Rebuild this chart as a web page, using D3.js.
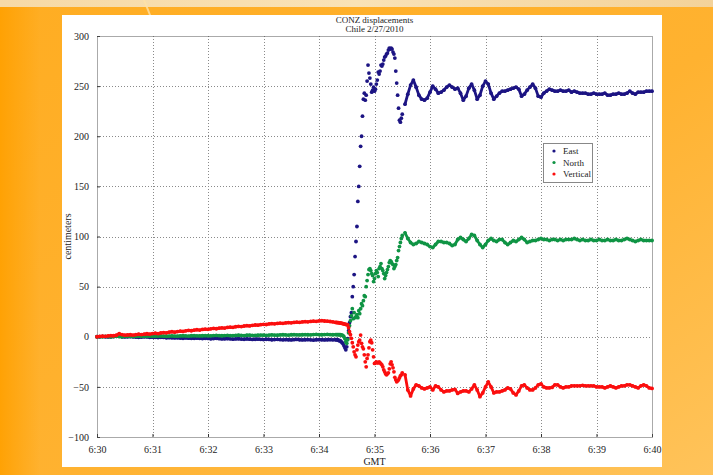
<!DOCTYPE html>
<html>
<head>
<meta charset="utf-8">
<script src="https://cdn.jsdelivr.net/npm/d3@7"></script>
<style>
  html, body { margin: 0; padding: 0; }
  body { width: 713px; height: 475px; overflow: hidden; }
  svg text { font-family: "Liberation Serif", "DejaVu Serif", serif; }
</style>
</head>
<body>
<svg id="chart" width="713" height="475"></svg>
<script>
// ---- data: CONZ GPS displacements (cm), 27 Feb 2010, 6:30-6:40 GMT ----
// Each segment: first sample (s after 6:30), sample spacing (s), values.
const eastPre = [0,0,0.3,0,-0.2,0,0.2,0.5,0.3,0,-0.2,0,0.2,0,-0.3,-0.5,-0.3,0,-0.2,-0.5,
  -0.4,-0.6,-0.8,-0.5,-0.7,-1,-0.8,-1,-1.2,-1,-1.3,-1.5,-1.2,-1.4,-1.6,-1.5,-1.3,-1.6,-1.8,-1.5,
  -1.7,-2,-1.8,-1.6,-1.9,-2.2,-2,-1.8,-2.1,-2.4,-2.2,-2,-2.3,-2.5,-2.2,-2.4,-2.7,-2.5,-2.3,-2.6,
  -2.8,-2.5,-2.7,-3,-2.8,-2.6,-2.9,-3.1,-2.8,-3,-3.2,-2.9,-2.7,-3,-3.2,-3,-2.8,-3.1,-3.3,-3,
  -2.8,-3,-3.2,-3,-2.9,-3.1,-3];
const eastQuake = [-3,-3,-3.5,-4,-4,-5,-6,-7,-9,-11,-13,-10,-2,6,14,20,24,40,50,62,
  80,95,110,135,150,170,190,200,220,237,243,236,241,255,271,263,258,252,244,246,
  249,245,247,252,256,264,262,265,271,270,272,276,279,280,282,283,286,288,287,288,
  287,284,282,278,265,253,241,228,216,214,218,222];
const eastPost = [232,242,251,256,249,241,237,236,238,244,250,247,243,244,246,249,251,249,247,248,
  243,236,240,248,252,246,237,241,250,255,252,243,237,240,243,245,245,246,247,248,
  249,247,240,242,246,249,252,248,240,239,243,245,247,246,245,245,246,245,245,246,
  244,245,244,243,243,243,242,242,243,242,242,242,243,241,241,242,242,243,242,242,
  243,245,243,242,244,244,244,245,245,245];

const northPre = [0,0.2,0,0.3,0.1,0,0.2,0.4,0.2,0,0.3,0.5,0.3,0.2,0.4,0.6,0.3,0.3,0.5,0.7,
  0.5,0.4,0.7,0.8,0.6,0.5,0.7,0.9,0.6,0.6,0.8,1,0.8,0.7,1,1.1,0.9,0.8,1,1.2,
  1,0.9,1.2,1.3,1.1,1,1.2,1.4,1.1,1.1,1.3,1.5,1.3,1.2,1.5,1.6,1.4,1.3,1.5,1.7,
  1.6,1.4,1.7,1.9,1.7,1.6,1.8,2,1.8,1.7,2,2.1,1.9,1.8,2,2.2,2,1.9,2.2,2.3,
  2.1,2,2.2,2.3,2.1,2,2.2];
const northQuake = [2.2,2.1,2.2,2,2,1.8,1.5,1,0,-2,-5,-6.6,-3,4,11,16,21,28,18,24,
  19,20,22,19,26,23,28,33,31,36,41,40,50,56,62,67,68,66,63,61,
  55,58,63,66,64,60,68,70,73,68,66,63,58,61,64,67,70,74,76,75,
  73,72,68,70,72,76,79,86,90,94,98,101];
const northPost = [103.7,98,94,92,93,95,94,93,92,90,89,92,95,95,94,94,93,91,92,97,
  99,97,95,98,102,101,96,92,89,92,96,98,96,95,97,97,94,92,94,96,
  95,97,99,97,94,95,96,96,97,98,97,97,96,97,97,96,97,96,97,97,
  97,98,97,96,97,96,96,97,96,96,97,96,96,97,96,96,97,96,96,97,
  98,97,96,95,96,97,96,96,96,96];

const vertPre = [0,0.3,0.5,0.4,0.8,1.2,1,1.5,3,2.2,1.6,1.8,2,1.7,2.1,2.5,2.2,2.6,3,2.7,
  3.2,3.5,3.1,3.8,4.2,3.9,4.5,5,4.6,5.2,5.6,5.3,5.9,6.3,6,6.6,7,6.7,7.3,7.6,
  7.4,7.9,8.3,8,8.6,8.9,8.7,9.3,9.6,9.4,10,10.3,10.1,10.7,11,10.8,11.4,11.7,11.5,12,
  12.4,12.2,12.8,13.1,12.9,13.3,13.6,13.4,13.8,14.1,13.9,14.3,14.6,14.4,14.8,15.1,14.9,15.3,15.6,15.4,
  15.8,16,15.7,15.5,15.2,14.8,14.3];
const vertQuake = [14.2,14.1,14,13.8,13.7,13.5,13.3,13,12.8,12.5,12.3,12,11.7,9,5,2,-1.6,-6,-10,-15,
  -18,-20,-13,-8.3,-5,-3.3,1.7,-6.6,-10,-12,-18,-25,-30,-21.6,-18,-11,-5,-3.3,-6,-13,
  -20,-26.6,-26,-25,-26,-26,-25,-26,-27,-28,-30,-33,-35,-37,-38,-37,-36,-32,-27,-25,
  -28,-31,-35,-40.5,-43,-45,-44,-43,-41,-39,-38,-36];
const vertPost = [-38,-53,-59,-52,-48,-49,-51,-52,-51,-50,-53,-49,-50,-53,-55,-54,-54,-53,-52.5,-56.5,
  -55,-54,-54,-55,-52,-48,-53,-59.8,-56,-50,-45,-50,-56,-55,-55,-54,-53,-51,-52,-56,
  -58,-54,-49,-48,-51,-53,-53,-51,-48,-47,-50,-51,-51,-50.5,-48,-48,-50,-51,-50,-50,
  -49,-49,-49,-49,-48.5,-49,-49,-49,-49,-50,-50,-50,-51,-50,-49,-50,-51,-50,-49,-49,
  -48,-48,-49,-50,-51,-49,-48,-49,-51,-51.5];

const segmentStarts = [0, 259, 333];   // seconds after 6:30
const segmentSteps  = [3, 1, 3];       // seconds between samples
const segmentTraced = [true, false, true]; // steady segments drawn as a dense trace

const seriesNames  = ["East", "North", "Vertical"];
const seriesColors = ["#1c1483", "#0f9444", "#fb0e0e"];
const seriesSegments = [
  [eastPre, eastQuake, eastPost],
  [northPre, northQuake, northPost],
  [vertPre, vertQuake, vertPost]
];

const xTickLabels = ["6:30","6:31","6:32","6:33","6:34","6:35","6:36","6:37","6:38","6:39","6:40"];
const yTickValues = [-100,-50,0,50,100,150,200,250,300];
const titleLines = ["CONZ displacements", "Chile 2/27/2010"];

// ---- build point lists ----
const series = seriesNames.map((name, k) => {
  const pts = [];
  const traces = [];
  seriesSegments[k].forEach((vals, j) => {
    const seg = vals.map((v, i) => ({ s: segmentStarts[j] + i * segmentSteps[j], v }));
    pts.push(...seg);
    if (segmentTraced[j]) traces.push(seg);
  });
  return { name, color: seriesColors[k], pts, traces };
});

const svg = d3.select("#chart");
const W = 713, H = 475;

// ---- slide background ----
const defs = svg.append("defs");
const bg = defs.append("linearGradient").attr("id", "bgGrad")
  .attr("x1", "0").attr("y1", "0").attr("x2", "1").attr("y2", "1");
bg.append("stop").attr("offset", "0").attr("stop-color", "#ffad22");
bg.append("stop").attr("offset", "0.55").attr("stop-color", "#ffb230");
bg.append("stop").attr("offset", "1").attr("stop-color", "#ffc35a");
const edge = defs.append("linearGradient").attr("id", "edgeGrad")
  .attr("x1", "0").attr("y1", "0").attr("x2", "1").attr("y2", "0");
edge.append("stop").attr("offset", "0").attr("stop-color", "#ffa000").attr("stop-opacity", 0.9);
edge.append("stop").attr("offset", "1").attr("stop-color", "#ffa000").attr("stop-opacity", 0);
const band = defs.append("linearGradient").attr("id", "bandGrad")
  .attr("x1", "0").attr("y1", "0").attr("x2", "1").attr("y2", "0");
band.append("stop").attr("offset", "0").attr("stop-color", "#f6d9a6");
band.append("stop").attr("offset", "0.5").attr("stop-color", "#f9e2b6");
band.append("stop").attr("offset", "1").attr("stop-color", "#f3d29a");

svg.append("rect").attr("width", W).attr("height", H).attr("fill", "url(#bgGrad)");
svg.append("rect").attr("width", 40).attr("height", H).attr("fill", "url(#edgeGrad)");
svg.append("rect").attr("width", W).attr("height", 7).attr("fill", "url(#bandGrad)");
svg.append("line").attr("x1", 144).attr("y1", 0).attr("x2", 160).attr("y2", 40)
  .attr("stroke", "#ffe2a8").attr("stroke-width", 2).attr("opacity", 0.8);

// white figure panel
svg.append("rect").attr("x", 62).attr("y", 15).attr("width", 600).attr("height", 452).attr("fill", "#ffffff");

// ---- scales ----
const x = d3.scaleLinear().domain([0, 600]).range([97, 652]);
const y = d3.scaleLinear().domain([-100, 300]).range([437, 36]);
const xTickValues = xTickLabels.map((_, i) => i * 60);

const plot = svg.append("g");

// grid
const gridStyle = g => g.attr("stroke", "#8a8a8a").attr("stroke-width", 1).attr("stroke-dasharray", "1,2");
plot.append("g").selectAll("line").data(xTickValues.slice(1, -1)).join("line")
  .attr("x1", d => Math.round(x(d)) + 0.5).attr("x2", d => Math.round(x(d)) + 0.5)
  .attr("y1", y(300)).attr("y2", y(-100)).call(gridStyle);
plot.append("g").selectAll("line").data(yTickValues.slice(1, -1)).join("line")
  .attr("y1", d => Math.round(y(d)) + 0.5).attr("y2", d => Math.round(y(d)) + 0.5)
  .attr("x1", x(0)).attr("x2", x(600)).call(gridStyle);

// axes
const xAxis = d3.axisBottom(x).tickValues(xTickValues)
  .tickFormat((d, i) => xTickLabels[i]).tickSize(3).tickPadding(6);
const yAxis = d3.axisLeft(y).tickValues(yTickValues).tickSize(3).tickPadding(5);

const gx = plot.append("g").attr("transform", `translate(0,${y(-100)})`).call(xAxis);
const gy = plot.append("g").attr("transform", `translate(${x(0)},0)`).call(yAxis);
[gx, gy].forEach(g => {
  g.select(".domain").remove();
  g.selectAll(".tick line").attr("stroke", "#333");
  g.selectAll("text").attr("font-size", 10).attr("fill", "#222")
    .style("font-family", "'Liberation Serif', serif");
});
gy.selectAll(".tick line").attr("x2", 3);
gx.selectAll(".tick line").attr("y2", -3);

// frame
plot.append("rect").attr("x", x(0) + 0.5).attr("y", y(300) + 0.5)
  .attr("width", x(600) - x(0)).attr("height", y(-100) - y(300))
  .attr("fill", "none").attr("stroke", "#555").attr("stroke-width", 1).attr("stroke-dasharray", "1,1");

// data: steady stretches as a dense trace, every sample as a dot
const trace = d3.line().x(d => x(d.s)).y(d => y(d.v));
series.forEach(sr => {
  plot.append("g").selectAll("path").data(sr.traces).join("path")
    .attr("d", trace).attr("fill", "none").attr("stroke", sr.color)
    .attr("stroke-width", 2.8).attr("stroke-linejoin", "round").attr("stroke-linecap", "round");
  plot.append("g").attr("fill", sr.color).selectAll("circle").data(sr.pts).join("circle")
    .attr("cx", d => x(d.s)).attr("cy", d => y(d.v)).attr("r", 1.9);
});

// titles
svg.append("g").selectAll("text").data(titleLines).join("text")
  .attr("x", (x(0) + x(600)) / 2).attr("y", (d, i) => 23 + i * 8.5)
  .attr("text-anchor", "middle").attr("font-size", 9).attr("fill", "#222").text(d => d);

svg.append("text").attr("x", (x(0) + x(600)) / 2).attr("y", 465)
  .attr("text-anchor", "middle").attr("font-size", 10).attr("fill", "#222").text("GMT");
svg.append("text").attr("transform", `translate(71,${(y(300) + y(-100)) / 2}) rotate(-90)`)
  .attr("text-anchor", "middle").attr("font-size", 10).attr("fill", "#222").text("centimeters");

// legend
const lg = svg.append("g").attr("transform", "translate(543,143)");
lg.append("rect").attr("x", 0.5).attr("y", 0.5).attr("width", 49).attr("height", 39)
  .attr("fill", "#fff").attr("stroke", "#888");
lg.selectAll("circle").data(series).join("circle")
  .attr("cx", 11).attr("cy", (d, i) => 8 + i * 11.5).attr("r", 1.6).attr("fill", d => d.color);
lg.selectAll("text").data(series).join("text")
  .attr("x", 20).attr("y", (d, i) => 11 + i * 11.5).attr("font-size", 9).attr("fill", "#222")
  .text(d => d.name);
</script>
</body>
</html>
